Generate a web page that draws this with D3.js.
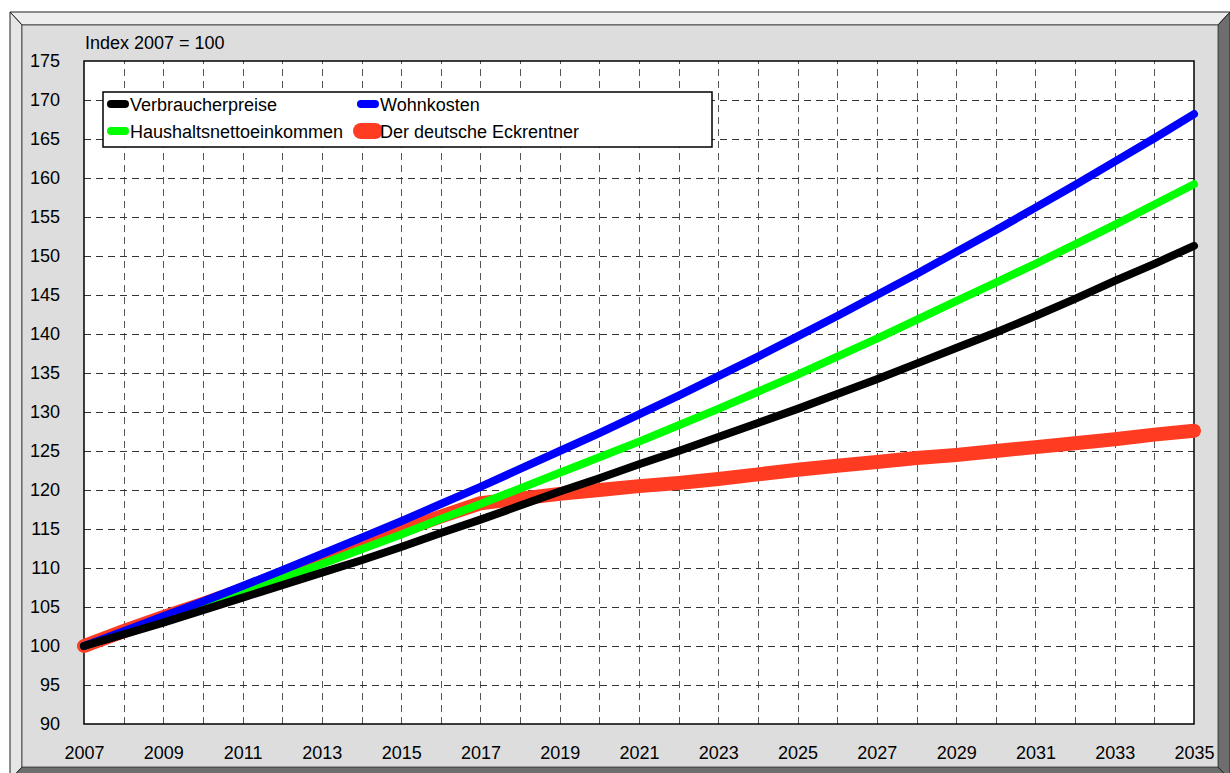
<!DOCTYPE html>
<html>
<head>
<meta charset="utf-8">
<script src="https://cdn.jsdelivr.net/npm/d3@7"></script>
<style>
  html, body { margin: 0; padding: 0; background: #ffffff; }
  svg { display: block; }
  text { font-family: "Liberation Sans", Arial, sans-serif; fill: #000; }
</style>
</head>
<body>
<svg id="chart" width="1230" height="773"></svg>
<script>
// ---------------- data ----------------
const years = d3.range(2007, 2036);
const yTicks = [90, 95, 100, 105, 110, 115, 120, 125, 130, 135, 140, 145, 150, 155, 160, 165, 170, 175];
const xTickLabels = [2007, 2009, 2011, 2013, 2015, 2017, 2019, 2021, 2023, 2025, 2027, 2029, 2031, 2033, 2035];

const verbraucherpreise = [100.0, 101.5, 103.0, 104.6, 106.2, 107.8, 109.4, 111.0, 112.7, 114.5, 116.2, 118.0, 119.8, 121.5, 123.3, 125.0, 126.8, 128.6, 130.4, 132.3, 134.2, 136.2, 138.2, 140.2, 142.3, 144.5, 146.8, 149.0, 151.3];
const wohnkosten = [100.0, 101.9, 103.8, 105.7, 107.7, 109.7, 111.8, 113.9, 116.0, 118.2, 120.4, 122.7, 125.0, 127.3, 129.7, 132.1, 134.6, 137.1, 139.7, 142.3, 145.0, 147.7, 150.5, 153.3, 156.2, 159.1, 162.1, 165.1, 168.2];
const haushaltsnettoeinkommen = [100.0, 101.7, 103.4, 105.2, 106.9, 108.7, 110.5, 112.4, 114.3, 116.3, 118.2, 120.2, 122.2, 124.2, 126.2, 128.3, 130.4, 132.6, 134.8, 137.1, 139.4, 141.8, 144.2, 146.6, 149.0, 151.5, 154.0, 156.6, 159.2];
const eckrentner = [100.0, 101.9, 103.7, 105.4, 107.2, 109.1, 111.1, 113.0, 114.8, 116.6, 118.3, 118.9, 119.5, 120.0, 120.5, 120.9, 121.4, 122.0, 122.6, 123.1, 123.6, 124.1, 124.5, 125.0, 125.5, 126.0, 126.5, 127.1, 127.6];

const seriesNames = ["Verbraucherpreise", "Wohnkosten", "Haushaltsnettoeinkommen", "Der deutsche Eckrentner"];
const seriesColors = ["#000000", "#0000ff", "#00ff00", "#ff3b22"];
const seriesValues = [verbraucherpreise, wohnkosten, haushaltsnettoeinkommen, eckrentner];
const yAxisTitle = "Index 2007 = 100";

// ---------------- layout ----------------
const svg = d3.select("#chart");
const plot = { left: 84, right: 1194, top: 61, bottom: 724 };

// 3D frame
const fx0 = 10, fy0 = 12, fx1 = 1230, fy1 = 780, bev = 12;
const ix0 = fx0 + bev, iy0 = fy0 + 13, ix1 = 1218, iy1 = 767;
svg.append("polygon") // top bevel
  .attr("points", `${fx0},${fy0} ${fx1},${fy0} ${ix1},${iy0} ${ix0},${iy0}`)
  .attr("fill", "#ededed").attr("stroke", "#222").attr("stroke-width", 1);
svg.append("polygon") // left bevel
  .attr("points", `${fx0},${fy0} ${ix0},${iy0} ${ix0},${iy1} ${fx0},${fy1}`)
  .attr("fill", "#e6e6e6").attr("stroke", "#222").attr("stroke-width", 1);
svg.append("polygon") // right bevel
  .attr("points", `${fx1},${fy0} ${fx1},${fy1} ${ix1},${iy1} ${ix1},${iy0}`)
  .attr("fill", "#6e6e6e").attr("stroke", "#222").attr("stroke-width", 1);
svg.append("polygon") // bottom bevel
  .attr("points", `${ix0},${iy1} ${ix1},${iy1} ${fx1},${fy1} ${fx0},${fy1}`)
  .attr("fill", "#6e6e6e").attr("stroke", "#222").attr("stroke-width", 1);
svg.append("rect") // face
  .attr("x", ix0).attr("y", iy0).attr("width", ix1 - ix0).attr("height", iy1 - iy0)
  .attr("fill", "#dddddd").attr("stroke", "#555").attr("stroke-width", 1);

// scales
const x = d3.scaleLinear().domain([2007, 2035]).range([plot.left, plot.right]);
const y = d3.scaleLinear().domain([90, 175]).range([plot.bottom, plot.top]);

// plot background
svg.append("rect")
  .attr("x", plot.left).attr("y", plot.top)
  .attr("width", plot.right - plot.left).attr("height", plot.bottom - plot.top)
  .attr("fill", "#ffffff");

// gridlines
const gridX = d3.axisBottom(x).tickValues(years.slice(1, -1)).tickSize(-(plot.bottom - plot.top)).tickFormat("");
const gx = svg.append("g").attr("transform", `translate(0,${plot.bottom})`).call(gridX);
gx.select(".domain").remove();
gx.selectAll("line").attr("stroke", "#555").attr("stroke-dasharray", "7,5").attr("shape-rendering", "crispEdges");

const gridY = d3.axisLeft(y).tickValues(yTicks.slice(1, -1)).tickSize(-(plot.right - plot.left)).tickFormat("");
const gy = svg.append("g").attr("transform", `translate(${plot.left},0)`).call(gridY);
gy.select(".domain").remove();
gy.selectAll("line").attr("stroke", "#333").attr("stroke-dasharray", "7,5").attr("shape-rendering", "crispEdges");

// plot border
svg.append("rect")
  .attr("x", plot.left).attr("y", plot.top)
  .attr("width", plot.right - plot.left).attr("height", plot.bottom - plot.top)
  .attr("fill", "none").attr("stroke", "#000").attr("stroke-width", 1.5);

// axis labels
const yAxis = d3.axisLeft(y).tickValues(yTicks).tickSize(0).tickPadding(24);
const ya = svg.append("g").attr("transform", `translate(${plot.left},0)`).call(yAxis);
ya.select(".domain").remove();
ya.selectAll("text").attr("font-size", 18).attr("font-family", "Liberation Sans, Arial, sans-serif").attr("fill", "#000");

const xAxis = d3.axisBottom(x).tickValues(xTickLabels).tickSize(0).tickPadding(22).tickFormat(d3.format("d"));
const xa = svg.append("g").attr("transform", `translate(0,${plot.bottom})`).call(xAxis);
xa.select(".domain").remove();
xa.selectAll("text").attr("font-size", 18).attr("font-family", "Liberation Sans, Arial, sans-serif").attr("fill", "#000");

svg.append("text").attr("x", 85).attr("y", 49).attr("font-size", 18).text(yAxisTitle);

// lines
const widths = [8, 8, 8, 14];
const drawOrder = [3, 2, 1, 0];
const line = d3.line().x((d, i) => x(years[i])).y(d => y(d));
drawOrder.forEach(k => {
  svg.append("path")
    .datum(seriesValues[k])
    .attr("d", line)
    .attr("fill", "none")
    .attr("stroke", seriesColors[k])
    .attr("stroke-width", widths[k])
    .attr("stroke-linecap", "round")
    .attr("stroke-linejoin", "round");
});

// legend
const lg = svg.append("g");
lg.append("rect").attr("x", 103).attr("y", 92).attr("width", 609).attr("height", 55)
  .attr("fill", "#fff").attr("stroke", "#000").attr("stroke-width", 1.5);
const legPos = [[107, 104], [357, 104], [107, 131], [357, 131]];
const legWidths = [8, 8, 8, 16];
[0, 1, 2, 3].forEach((k, j) => {
  const [lx, ly] = legPos[j];
  lg.append("line").attr("x1", lx + 4).attr("x2", lx + 18).attr("y1", ly).attr("y2", ly)
    .attr("stroke", seriesColors[k]).attr("stroke-width", legWidths[k]).attr("stroke-linecap", "round");
  lg.append("text").attr("x", lx + 23).attr("y", ly + 6.5).attr("font-size", 18).text(seriesNames[k]);
});
</script>
</body>
</html>
